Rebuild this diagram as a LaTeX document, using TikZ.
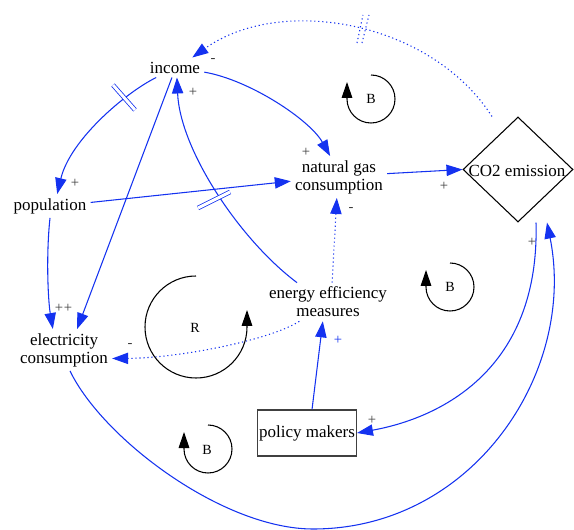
\documentclass[tikz,border=0pt]{standalone}
\usepackage{fontspec}
\setmainfont{Liberation Serif}
\usetikzlibrary{arrows.meta,shapes.geometric,calc}
\definecolor{linkblue}{RGB}{20,50,240}
\definecolor{signgray}{RGB}{60,60,60}

\begin{document}
\begin{tikzpicture}[x=0.75pt,y=-0.75pt,
  var/.style={inner sep=3pt, align=center, font=\fontsize{12.75}{13.5}\selectfont},
  link/.style={draw=linkblue, line width=0.8pt, -{Triangle[length=12pt,width=8.5pt]}},
  info/.style={link, dash pattern=on 0.9pt off 2.1pt},
  sign/.style={font=\fontsize{11}{12}\selectfont, text=signgray, inner sep=0pt},
  loopname/.style={font=\fontsize{10.5}{12}\selectfont, inner sep=0pt},
  looparc/.style={draw=black, line width=0.8pt, -{Triangle[length=12pt,width=8pt]}},
  delay/.style={draw=linkblue, double=white, double distance=2.2pt, line width=0.6pt},
  infodelay/.style={draw=linkblue, line width=0.8pt, dash pattern=on 0.9pt off 2.1pt},
]
\useasboundingbox (0,0) rectangle (574,530);

% variables
\node[var] (income) at (175,67.5) {income};
\node[var] (population) at (50,206) {population};
\node[var] (gas) at (339,177) {natural gas\\consumption};
\node[var] (elec) at (64,350) {electricity\\consumption};
\node[var] (eem) at (328,302) {energy efficiency\\measures};
\node[draw=black!75, line width=1.1pt, minimum width=73.5pt, minimum height=34.5pt,
      inner sep=1pt, font=\fontsize{12.75}{13.5}\selectfont] (policy) at (307,433) {policy makers};
\node[diamond, draw=black, line width=0.8pt, minimum width=82.5pt, minimum height=78.75pt,
      inner sep=0pt] (co2) at (518,169.5) {};
\node[var] (co2label) at (517,170.5) {CO2 emission};

% causal links
\draw[link] (income.208) .. controls (125,93) and (70,140) .. (population.59);
\draw[link] (population.south) .. controls (46,255) and (48,300) .. (elec.118);
\draw[link] (income.253) -- (elec.58);
\draw[link] (eem.148) .. controls (240,240) and (180,150) .. (income.281);
\draw[link] (income.351) .. controls (250,80) and (310,120) .. (gas.113.5);
\draw[link] (population.5.6) -- (gas.185);
\draw[link] (gas.4) -- (co2.west);
\draw[info] ($(co2.north)+(-26,0)$) .. controls (430,20) and (280,-5) .. (income.30);
\draw[info] (eem.78) -- (gas.264.5);
\draw[info] (eem.214) .. controls (270,340) and (180,358) .. (elec.350.5);
\draw[link] ($(co2.south)+(18,0)$) .. controls (540,370) and (440,418) .. (policy.east);
\draw[link] (elec.286) .. controls (103,439) and (223,529) .. (313,529)
            .. controls (473,529) and (577,372) .. ($(co2.south)+(29,0)$);
\draw[link] (policy.78) -- (eem.255);

% delay marks
\draw[delay] (113,85) -- (135,110);
\draw[delay] (198,208) -- (230,192);
\draw[infodelay] (357,43) -- (363,15);
\draw[infodelay] (362,43) -- (369,15);

% polarities
\node[sign] (p1) at (213,61) {-};
\node[sign] (p2) at (193,92) {+};
\node[sign] (p3) at (75,183) {+};
\node[sign] (p4) at (306,152) {+};
\node[sign] (p5) at (444,186) {+};
\node[sign] (p6) at (351,210) {-};
\node[sign] (p7) at (532,242) {+};
\node[sign] (p8) at (59,308) {+};
\node[sign] (p9) at (68,308) {+};
\node[sign] (p10) at (130,345) {-};
\node[sign, text=linkblue] (p11) at (338,340) {+};
\node[sign] (p12) at (372,420) {+};

% loop markers
\draw[looparc] (371,75) arc[start angle=-90, end angle=180, radius=24] -- ++(0,-17);
\node[loopname] (loopB1) at (371,99) {B};
\draw[looparc] (450,263) arc[start angle=-90, end angle=180, radius=24] -- ++(0,-17);
\node[loopname] (loopB2) at (450,287) {B};
\draw[looparc] (208,425) arc[start angle=-90, end angle=180, radius=24] -- ++(0,-17);
\node[loopname] (loopB3) at (207,450) {B};
\draw[looparc] (196,276) arc[start angle=-90, end angle=-360, radius=51] -- ++(0,-17);
\node[loopname] (loopR) at (195,328) {R};
\end{tikzpicture}
\end{document}
